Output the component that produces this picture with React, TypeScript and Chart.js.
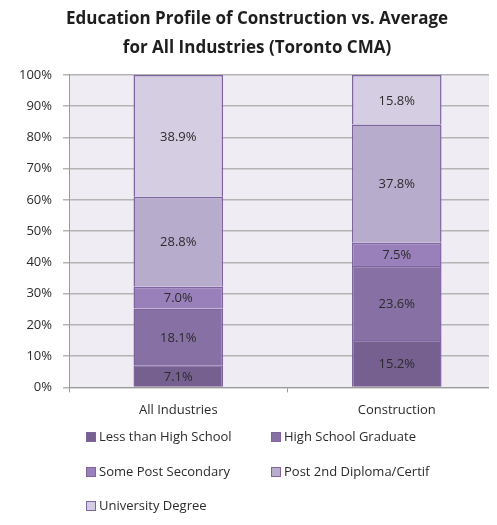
import React, { useEffect, useRef } from "react";
import { Chart, registerables } from "chart.js";

Chart.register(...registerables);

const categories = ["All Industries", "Construction"];
const seriesNames = [
  "Less than High School",
  "High School Graduate",
  "Some Post Secondary",
  "Post 2nd Diploma/Certif",
  "University Degree",
];
const lessThanHighSchool = [7.1, 15.2];
const highSchoolGraduate = [18.1, 23.6];
const somePostSecondary = [7.0, 7.5];
const post2ndDiploma = [28.8, 37.8];
const universityDegree = [38.9, 15.8];
const seriesColors = ["#76608f", "#8770a4", "#9a80bb", "#b8accd", "#d5cee2"];
const titleLines = ["Education Profile of Construction vs. Average", "for All Industries (Toronto CMA)"];

const FONT = "'Open Sans', 'DejaVu Sans', sans-serif";

const plotBg = {
  id: "plotBg",
  beforeDraw(chart: any) {
    const { ctx, chartArea } = chart;
    ctx.save();
    ctx.fillStyle = "#efedf3";
    ctx.fillRect(chartArea.left, chartArea.top, chartArea.right - chartArea.left, chartArea.bottom - chartArea.top);
    ctx.restore();
  },
};

const valueLabels = {
  id: "valueLabels",
  afterDatasetsDraw(chart: any) {
    const { ctx } = chart;
    ctx.save();
    ctx.font = `13px ${FONT}`;
    ctx.fillStyle = "#2b2b2b";
    ctx.textAlign = "center";
    ctx.textBaseline = "middle";
    chart.data.datasets.forEach((ds: any, di: number) => {
      const meta = chart.getDatasetMeta(di);
      meta.data.forEach((el: any, i: number) => {
        const v = ds.data[i];
        const y = (el.y + el.base) / 2;
        ctx.fillText(v.toFixed(1) + "%", el.x, y + 1);
      });
    });
    ctx.restore();
  },
};

const gridLegend = {
  id: "gridLegend",
  afterDraw(chart: any) {
    const { ctx } = chart;
    const cols = [86, 271];
    const rows = [437, 472, 506];
    ctx.save();
    ctx.font = `13px ${FONT}`;
    ctx.textBaseline = "middle";
    ctx.textAlign = "left";
    chart.data.datasets.forEach((ds: any, i: number) => {
      const x = cols[i % 2];
      const y = rows[Math.floor(i / 2)];
      ctx.fillStyle = ds.backgroundColor;
      ctx.fillRect(x, y - 5, 10, 10);
      ctx.strokeStyle = "#7e64a0";
      ctx.lineWidth = 1;
      ctx.strokeRect(x + 0.5, y - 4.5, 9, 9);
      ctx.fillStyle = "#2b2b2b";
      ctx.fillText(ds.label, x + 13, y);
    });
    ctx.restore();
  },
};

export default function App() {
  const ref = useRef<HTMLCanvasElement>(null);
  useEffect(() => {
    const values = [lessThanHighSchool, highSchoolGraduate, somePostSecondary, post2ndDiploma, universityDegree];
    const chart = new Chart(ref.current!, {
      type: "bar",
      data: {
        labels: categories,
        datasets: seriesNames.map((name, i) => ({
          label: name,
          data: values[i],
          backgroundColor: seriesColors[i],
          borderColor: "#7e64a0",
          borderWidth: 1.5,
          barPercentage: 0.41,
          categoryPercentage: 1,
        })),
      },
      options: {
        animation: false,
        responsive: false,
        maintainAspectRatio: false,
        layout: { padding: { left: 8, right: 0, top: 5, bottom: 97 } },
        plugins: {
          legend: { display: false },
          tooltip: { enabled: false },
          title: {
            display: true,
            text: titleLines,
            color: "#1e1e1e",
            font: { family: FONT, size: 17, weight: "bold", lineHeight: 1.7 },
            padding: { top: 0, bottom: 12 },
          },
        },
        scales: {
          x: {
            stacked: true,
            grid: { display: true, drawOnChartArea: false, drawTicks: true, tickLength: 5, color: "#9a9a9a", offset: true },
            border: { display: true, color: "#9a9a9a", width: 1 },
            ticks: { color: "#2b2b2b", font: { family: FONT, size: 13 }, padding: 10 },
          },
          y: {
            stacked: true,
            min: 0,
            max: 100,
            ticks: {
              stepSize: 10,
              color: "#2b2b2b",
              font: { family: FONT, size: 13 },
              padding: 11,
              callback: (v: any) => v + "%",
            },
            grid: { color: "#b4b4b4", lineWidth: 1.5, tickLength: 6 },
            border: { display: true, color: "#9a9a9a", width: 1 },
          },
        },
      },
      plugins: [plotBg, valueLabels, gridLegend],
    });
    return () => chart.destroy();
  }, []);
  return (
    <div style={{ margin: "-8px", width: 497, height: 525, overflow: "hidden", background: "#fff" }}>
      <canvas ref={ref} width={506} height={525} style={{ display: "block" }} />
    </div>
  );
}
